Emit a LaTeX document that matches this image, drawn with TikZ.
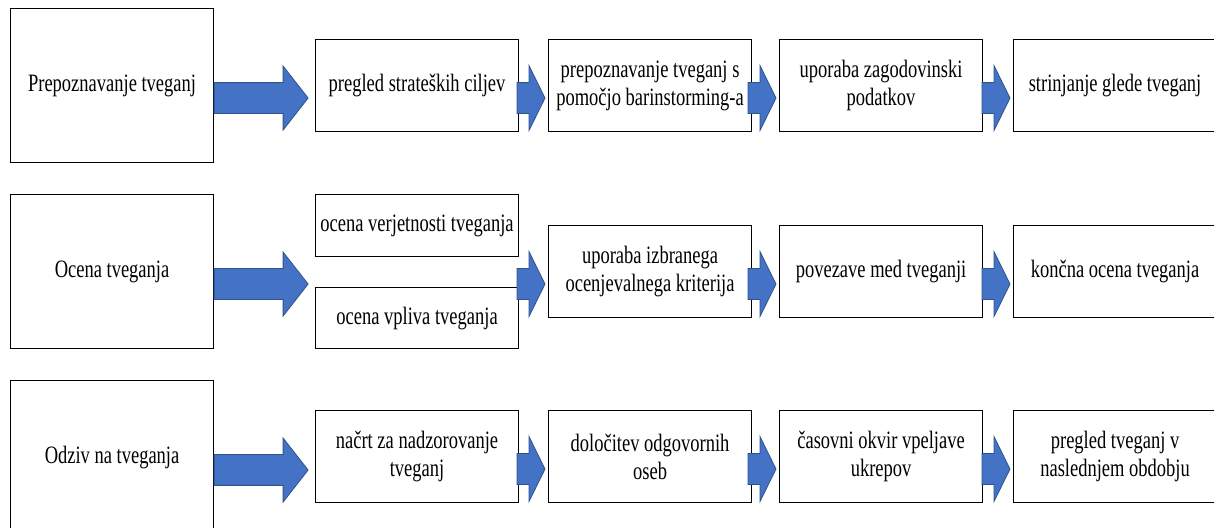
\documentclass[tikz,border=0pt]{standalone}
\usepackage{fontspec}
\setmainfont{Liberation Serif}[FakeStretch=0.74]
\definecolor{arrowblue}{HTML}{4472C4}
\definecolor{arrowedge}{HTML}{2F528F}
\begin{document}
\begin{tikzpicture}[x=0.5pt,y=-0.5pt,
  box/.style={draw=black, line width=0.55pt, fill=white, anchor=north west,
    minimum width=101.5pt, inner sep=2pt, align=center,
    font=\fontsize{12.5}{14}\selectfont},
  stage/.style={box, minimum height=77pt},
  stepbox/.style={box, minimum height=46pt},
  arrowbody/.style={fill=arrowblue, draw=arrowedge, line width=0.4pt, line join=miter},
  pics/bigarrow/.style={code={\draw[arrowbody] (0,-15.5) -- (69,-15.5) -- (69,-32)
      -- (94,0) -- (69,32) -- (69,15.5) -- (0,15.5) -- cycle;}},
  pics/smallarrow/.style={code={\draw[arrowbody] (-31,-15.5) -- (-19,-15.5) -- (-19,-32.5)
      -- (-3,0) -- (-19,32.5) -- (-19,15.5) -- (-31,15.5) -- cycle;}},
]
\useasboundingbox (0,0) rectangle (1214,528);
\clip (0,0) rectangle (1214,528);

% row 1: identification
\node[stage]   (s1)  at (10,8)    {Prepoznavanje tveganj};
\node[stepbox] (a1)  at (315,39)  {pregled strateških ciljev};
\node[stepbox] (a2)  at (548,39)  {prepoznavanje tveganj s\\pomočjo barinstorming-a};
\node[stepbox] (a3)  at (779,39)  {uporaba zagodovinski\\podatkov};
\node[stepbox] (a4)  at (1013,39) {strinjanje glede tveganj};

% row 2: assessment
\node[stage]   (s2)  at (10,194)  {Ocena tveganja};
\node[box, minimum height=31pt]   (b1a) at (315,194) {ocena verjetnosti tveganja};
\node[box, minimum height=30.5pt] (b1b) at (315,287) {ocena vpliva tveganja};
\node[stepbox] (b2)  at (548,225) {uporaba izbranega\\ocenjevalnega kriterija};
\node[stepbox] (b3)  at (779,225) {povezave med tveganji};
\node[stepbox] (b4)  at (1013,225){končna ocena tveganja};

% row 3: response
\node[stage]   (s3)  at (10,380)  {Odziv na tveganja};
\node[stepbox] (c1)  at (315,410) {načrt za nadzorovanje\\tveganj};
\node[stepbox] (c2)  at (548,410) {določitev odgovornih\\oseb};
\node[stepbox] (c3)  at (779,410) {časovni okvir vpeljave\\ukrepov};
\node[stepbox] (c4)  at (1013,410){pregled tveganj v\\naslednjem obdobju};

% block arrows
\pic at ([yshift=-6.25pt]s1.east) {bigarrow};
\pic at ([yshift=-6.25pt]s2.east) {bigarrow};
\pic at ([yshift=-6.25pt]s3.east) {bigarrow};
\foreach \n in {a2,a3,a4,b2,b3,b4,c2,c3,c4}{
  \pic at ([yshift=-6.25pt]\n.west) {smallarrow};
}
\end{tikzpicture}
\end{document}
